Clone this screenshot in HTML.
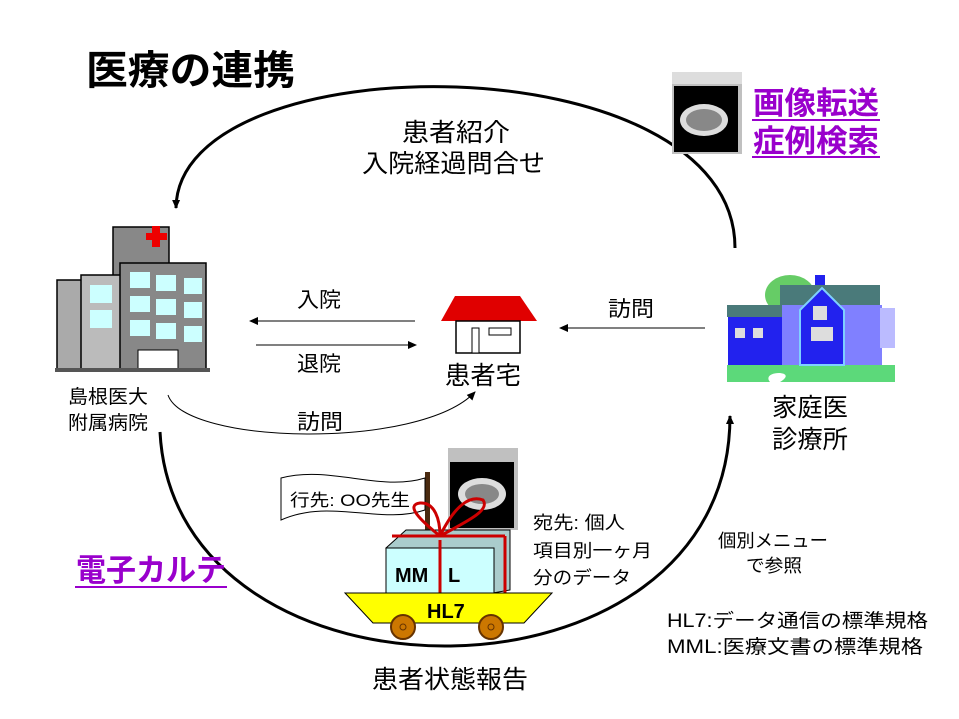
<!DOCTYPE html>
<html><head><meta charset="utf-8"><style>
html,body{margin:0;padding:0;background:#fff}
svg{display:block}
text{font-family:"Liberation Sans","Noto Sans CJK JP",sans-serif}
</style></head><body>
<svg width="959" height="719" viewBox="0 0 959 719" xmlns="http://www.w3.org/2000/svg">
<defs>
<marker id="ah" markerWidth="10" markerHeight="10" refX="8" refY="5" orient="auto" markerUnits="userSpaceOnUse"><path d="M0,1 L9,5 L0,9 Z" fill="#000"/></marker>
</defs>
<rect width="959" height="719" fill="#fff"/>
<text x="86" y="84" font-size="40" font-weight="bold" fill="#000" textLength="209" lengthAdjust="spacingAndGlyphs">医療の連携</text>

<!-- big arcs -->
<path d="M735,248 C735,40 178,40 176,208" fill="none" stroke="#000" stroke-width="3" marker-end="url(#ah)"/>
<path d="M160,432 C175,720 730,720 730,416" fill="none" stroke="#000" stroke-width="3" marker-end="url(#ah)"/>
<!-- small connectors -->
<line x1="415" y1="321" x2="250" y2="321" stroke="#000" stroke-width="1" marker-end="url(#ah)"/>
<line x1="256" y1="345" x2="416" y2="345" stroke="#000" stroke-width="1" marker-end="url(#ah)"/>
<line x1="705" y1="328" x2="560" y2="328" stroke="#000" stroke-width="1" marker-end="url(#ah)"/>
<path d="M168,395 C185,445 420,450 475,392" fill="none" stroke="#000" stroke-width="1" marker-end="url(#ah)"/>

<text x="297" y="307" font-size="21" textLength="44" lengthAdjust="spacingAndGlyphs">入院</text>
<text x="297" y="371" font-size="21" textLength="44" lengthAdjust="spacingAndGlyphs">退院</text>
<text x="297" y="429" font-size="21" textLength="46" lengthAdjust="spacingAndGlyphs">訪問</text>
<text x="608" y="316" font-size="21" textLength="46" lengthAdjust="spacingAndGlyphs">訪問</text>
<text x="402" y="141" font-size="25" textLength="108" lengthAdjust="spacingAndGlyphs">患者紹介</text>
<text x="362" y="172" font-size="25" textLength="183" lengthAdjust="spacingAndGlyphs">入院経過問合せ</text>
<text x="445" y="384" font-size="25" textLength="76" lengthAdjust="spacingAndGlyphs">患者宅</text>
<text x="68" y="403" font-size="19" textLength="80" lengthAdjust="spacingAndGlyphs">島根医大</text>
<text x="68" y="429" font-size="19" textLength="80" lengthAdjust="spacingAndGlyphs">附属病院</text>
<text x="772" y="416" font-size="25" textLength="76" lengthAdjust="spacingAndGlyphs">家庭医</text>
<text x="772" y="448" font-size="25" textLength="76" lengthAdjust="spacingAndGlyphs">診療所</text>
<text x="372" y="688" font-size="25" textLength="156" lengthAdjust="spacingAndGlyphs">患者状態報告</text>
<text x="718" y="547" font-size="18" textLength="110" lengthAdjust="spacingAndGlyphs">個別メニュー</text>
<text x="746" y="572" font-size="18" textLength="56" lengthAdjust="spacingAndGlyphs">で参照</text>
<text x="667" y="627" font-size="19" textLength="261" lengthAdjust="spacingAndGlyphs">HL7:データ通信の標準規格</text>
<text x="667" y="653" font-size="19" textLength="256" lengthAdjust="spacingAndGlyphs">MML:医療文書の標準規格</text>
<text x="533" y="529" font-size="18" textLength="92" lengthAdjust="spacingAndGlyphs">宛先: 個人</text>
<text x="533" y="557" font-size="18" textLength="119" lengthAdjust="spacingAndGlyphs">項目別一ヶ月</text>
<text x="533" y="584" font-size="18" textLength="98" lengthAdjust="spacingAndGlyphs">分のデータ</text>

<!-- purple labels -->
<g font-size="31" font-weight="bold" fill="#9900cc">
<text x="753" y="114" textLength="126" lengthAdjust="spacingAndGlyphs">画像転送</text><line x1="752" y1="120" x2="880" y2="120" stroke="#9900cc" stroke-width="2"/>
<text x="753" y="152" textLength="126" lengthAdjust="spacingAndGlyphs">症例検索</text><line x1="752" y1="157" x2="880" y2="157" stroke="#9900cc" stroke-width="2"/>
<text x="76" y="581" textLength="150" lengthAdjust="spacingAndGlyphs">電子カルテ</text><line x1="75" y1="587" x2="227" y2="587" stroke="#9900cc" stroke-width="2"/>
</g>

<!-- CT thumbnail top -->
<rect x="672" y="72" width="70" height="82" fill="#c0c0c0"/>
<rect x="672" y="72" width="70" height="12" fill="#ddd"/>
<rect x="674" y="86" width="64" height="66" fill="#000"/>
<ellipse cx="704" cy="120" rx="24" ry="16" fill="#ddd"/>
<ellipse cx="704" cy="120" rx="18" ry="11" fill="#888"/>

<!-- hospital -->
<g stroke="#000" stroke-width="1.5">
<rect x="113" y="227" width="56" height="50" fill="#888"/>
<rect x="57" y="280" width="58" height="90" fill="#aaa"/>
<rect x="81" y="275" width="40" height="95" fill="#bbb"/>
<rect x="120" y="263" width="86" height="107" fill="#888"/>
</g>
<path d="M146,233 h6 v-7 h8 v7 h7 v7 h-7 v7 h-8 v-7 h-6 z" fill="#e00"/>
<g fill="#ccffff">
<rect x="130" y="272" width="20" height="16"/><rect x="156" y="275" width="20" height="16"/><rect x="184" y="278" width="18" height="16"/>
<rect x="130" y="296" width="20" height="16"/><rect x="156" y="299" width="20" height="16"/><rect x="184" y="302" width="18" height="16"/>
<rect x="130" y="320" width="20" height="16"/><rect x="156" y="323" width="20" height="16"/><rect x="184" y="326" width="18" height="16"/>
<rect x="90" y="285" width="22" height="18"/><rect x="90" y="310" width="22" height="18"/>
</g>
<rect x="138" y="350" width="40" height="20" fill="#fff" stroke="#000"/>
<rect x="55" y="368" width="155" height="4" fill="#555"/>

<!-- patient house -->
<polygon points="441,321 455,296 520,296 537,321" fill="#e00000"/>
<rect x="456" y="321" width="64" height="32" fill="#fff" stroke="#000" stroke-width="1.5"/>
<rect x="472" y="328" width="7" height="25" fill="#fff" stroke="#000"/>
<rect x="489" y="328" width="22" height="7" fill="#fff" stroke="#000"/>

<!-- clinic house -->
<ellipse cx="790" cy="295" rx="25" ry="20" fill="#66cc66"/>
<rect x="727" y="365" width="168" height="17" fill="#5cd97a"/>
<rect x="727" y="305" width="60" height="12" fill="#4a7a7a"/>
<rect x="728" y="317" width="60" height="48" fill="#2222ee"/>
<rect x="780" y="285" width="100" height="22" fill="#4a7a7a"/>
<rect x="782" y="305" width="100" height="60" fill="#8080ff"/>
<polygon points="800,365 800,310 822,288 844,310 844,365" fill="#2222ee" stroke="#7fd0ff" stroke-width="2"/>
<rect x="815" y="275" width="10" height="10" fill="#2222ee"/>
<rect x="813" y="306" width="14" height="14" fill="#ddd"/>
<rect x="811" y="327" width="22" height="14" fill="#ddd"/>
<rect x="735" y="328" width="10" height="10" fill="#ddd"/><rect x="753" y="328" width="10" height="10" fill="#ddd"/>
<rect x="880" y="308" width="15" height="40" fill="#bbbbff"/>
<path d="M770,382 C760,370 800,370 780,382" fill="#fff"/>

<!-- flag -->
<rect x="425" y="472" width="5" height="58" fill="#4a2a10"/>
<path d="M281,478 C330,465 380,492 425,478 L425,510 C380,525 330,498 281,520 Z" fill="#fff" stroke="#000"/>
<text x="290" y="506" font-size="17" textLength="120" lengthAdjust="spacingAndGlyphs">行先: OO先生</text>
<!-- CT thumbnail middle -->
<rect x="448" y="448" width="70" height="82" fill="#c0c0c0"/>
<rect x="450" y="462" width="64" height="66" fill="#000"/>
<ellipse cx="482" cy="494" rx="24" ry="16" fill="#ddd"/>
<ellipse cx="482" cy="494" rx="17" ry="10" fill="#888"/>

<!-- cart -->
<polygon points="386,548 406,530 510,530 510,590 493,593" fill="#aacccc" stroke="#000"/>
<rect x="386" y="548" width="108" height="45" fill="#ccffff" stroke="#000"/>
<text x="395" y="582" font-size="20" font-weight="bold">MM</text>
<text x="448" y="582" font-size="20" font-weight="bold">L</text>
<g fill="none" stroke="#cc0000" stroke-width="3">
<line x1="440" y1="540" x2="440" y2="593"/><line x1="392" y1="536" x2="505" y2="536"/><line x1="505" y1="536" x2="505" y2="593"/>
<path d="M440,536 C420,520 405,505 420,503 C435,502 440,520 440,536"/>
<path d="M440,536 C455,505 470,495 483,500 C490,510 470,520 440,536"/>
</g>
<polygon points="345,593 552,593 524,623 373,623" fill="#ffff00" stroke="#000"/>
<text x="427" y="618" font-size="20" font-weight="bold">HL7</text>
<circle cx="403" cy="627" r="12" fill="#cc7700" stroke="#663300" stroke-width="2"/><circle cx="403" cy="627" r="3" fill="none" stroke="#663300"/>
<circle cx="491" cy="627" r="12" fill="#cc7700" stroke="#663300" stroke-width="2"/><circle cx="491" cy="627" r="3" fill="none" stroke="#663300"/>
</svg>
</body></html>
